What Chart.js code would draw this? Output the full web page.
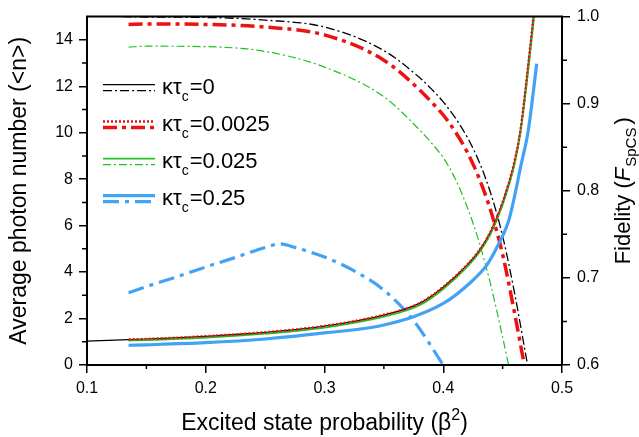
<!DOCTYPE html>
<html>
<head>
<meta charset="utf-8">
<script src="https://cdn.jsdelivr.net/npm/chart.js@4.4.1/dist/chart.umd.min.js"></script>
<style>
  html, body { margin: 0; padding: 0; background: #fff; }
  #wrap { width: 639px; height: 437px; position: relative; }
</style>
</head>
<body>
<div id="wrap"><canvas id="photonChart"></canvas></div>
<script>
// kappa*tau_c values, one per legend row
const kappaTau = ['0', '0.0025', '0.025', '0.25'];

// average photon number <n> (left axis), solid lines
const xN0 = [0.1, 0.135, 0.15, 0.2, 0.25, 0.3, 0.35, 0.38, 0.4, 0.42, 0.43, 0.44, 0.45, 0.46, 0.465, 0.47, 0.476];
const nK0 = [1.03, 1.09, 1.11, 1.23, 1.40, 1.67, 2.15, 2.65, 3.35, 4.30, 4.90, 5.75, 7.00, 8.75, 10.1, 12.2, 15.0];
const xN1 = [0.135, 0.15, 0.2, 0.25, 0.3, 0.35, 0.38, 0.4, 0.42, 0.43, 0.44, 0.45, 0.46, 0.465, 0.47, 0.476];
const nK1 = [1.10, 1.12, 1.24, 1.41, 1.68, 2.16, 2.66, 3.36, 4.31, 4.91, 5.76, 7.01, 8.76, 10.1, 12.2, 15.0];
const xN2 = [0.135, 0.15, 0.2, 0.25, 0.3, 0.35, 0.38, 0.4, 0.42, 0.43, 0.44, 0.45, 0.46, 0.465, 0.47, 0.4765];
const nK2 = [1.05, 1.07, 1.18, 1.35, 1.61, 2.08, 2.57, 3.27, 4.22, 4.82, 5.66, 6.90, 8.65, 10.0, 12.0, 15.0];
const xN3 = [0.135, 0.15, 0.2, 0.25, 0.3, 0.35, 0.4, 0.425, 0.4366, 0.445, 0.455, 0.46, 0.465, 0.4716, 0.4787];
const nK3 = [0.85, 0.87, 0.96, 1.12, 1.38, 1.72, 2.65, 3.65, 4.30, 5.05, 6.2, 7.25, 8.5, 10.1, 12.97];

// fidelity F_SpCS (right axis), dash-dot lines
const xF0 = [0.13, 0.15, 0.2, 0.25, 0.3, 0.35, 0.38, 0.39, 0.4, 0.41, 0.42, 0.43, 0.44, 0.45, 0.46, 0.471];
const fK0 = [1.0, 0.9995, 0.999, 0.996, 0.988, 0.961, 0.930, 0.917, 0.902, 0.884, 0.862, 0.834, 0.797, 0.748, 0.683, 0.600];
const xF1 = [0.135, 0.15, 0.2, 0.25, 0.3, 0.35, 0.38, 0.39, 0.4, 0.41, 0.42, 0.43, 0.44, 0.45, 0.46, 0.468];
const fK1 = [0.991, 0.9915, 0.991, 0.988, 0.979, 0.950, 0.916, 0.902, 0.887, 0.868, 0.845, 0.815, 0.777, 0.727, 0.660, 0.602];
const xF2 = [0.135, 0.15, 0.2, 0.25, 0.3, 0.35, 0.38, 0.39, 0.4, 0.41, 0.42, 0.43, 0.44, 0.45, 0.455];
const fK2 = [0.965, 0.966, 0.9655, 0.960, 0.942, 0.908, 0.870, 0.855, 0.838, 0.814, 0.782, 0.742, 0.692, 0.632, 0.600];
const xF3 = [0.135, 0.15, 0.175, 0.2, 0.225, 0.25, 0.2625, 0.275, 0.3, 0.325, 0.35, 0.375, 0.4];
const fK3 = [0.683, 0.690, 0.701, 0.7125, 0.7235, 0.735, 0.739, 0.735, 0.724, 0.708, 0.686, 0.651, 0.600];

// tick labels
const xTicks = [0.1, 0.2, 0.3, 0.4, 0.5];
const xMinor = [0.15, 0.25, 0.35, 0.45];
const nTicks = [0, 2, 4, 6, 8, 10, 12, 14];
const nMinor = [1, 3, 5, 7, 9, 11, 13];
const fTicks = [0.6, 0.7, 0.8, 0.9, 1.0];
const fMinor = [0.65, 0.75, 0.85, 0.95];

const fontFam = '"Liberation Sans", Arial, sans-serif';
const RED = '#ee1111', GREEN = '#22c022', BLUE = '#42a2f5';

function series(xs, ys, axis, color, width, dash, group, dashed) {
    return {
        data: xs.map((x, i) => ({ x: x, y: ys[i] })),
        yAxisID: axis,
        borderColor: color,
        borderWidth: width,
        borderDash: dash,
        pointRadius: 0,
        fill: false,
        cubicInterpolationMode: 'monotone',
        group: group,
        dashed: dashed
    };
}

const datasets = [
    series(xN1, nK1, 'y', RED, 2.5, [2, 2], 1, false),         // dotted
    series(xN2, nK2, 'y', GREEN, 1.8, [], 2, false),
    series(xN0, nK0, 'y', '#000', 1.3, [], 0, false),
    series(xN3, nK3, 'y', BLUE, 3.2, [], 3, false),
    series(xF0, fK0, 'y2', '#000', 1.3, [9, 3, 2, 3], 0, true),
    series(xF1, fK1, 'y2', RED, 3.5, [14, 5, 4, 5], 1, true),
    series(xF2, fK2, 'y2', GREEN, 1.2, [8, 3, 2, 3], 2, true),
    series(xF3, fK3, 'y2', BLUE, 3.2, [16, 6, 4, 6], 3, true)
];

function fixedTicks(list) {
    return function (scale) { scale.ticks = list.map(v => ({ value: v })); };
}

const axisGrid = { drawOnChartArea: false, drawTicks: true, tickLength: 8, color: '#000', lineWidth: 1.5 };
const axisBorder = { display: true, color: '#000', width: 2 };
const tickFont = { family: fontFam, size: 16 };

// minor ticks, frame top, titles and legend
const decorations = {
    id: 'decorations',
    afterDraw(chart) {
        const { ctx, chartArea: a, scales } = chart;
        ctx.save();
        ctx.strokeStyle = '#000';
        ctx.fillStyle = '#000';
        ctx.lineWidth = 2;
        ctx.beginPath();
        ctx.moveTo(a.left - 1, a.top);
        ctx.lineTo(a.right + 1, a.top);
        ctx.stroke();

        ctx.lineWidth = 1.5;
        ctx.beginPath();
        xMinor.forEach(v => {
            const p = scales.x.getPixelForValue(v);
            ctx.moveTo(p, a.bottom); ctx.lineTo(p, a.bottom + 4);
        });
        nMinor.forEach(v => {
            const p = scales.y.getPixelForValue(v);
            ctx.moveTo(a.left, p); ctx.lineTo(a.left - 5, p);
        });
        fMinor.forEach(v => {
            const p = scales.y2.getPixelForValue(v);
            ctx.moveTo(a.right, p); ctx.lineTo(a.right + 5, p);
        });
        ctx.stroke();

        const big = `23px ${fontFam}`, small = `16px ${fontFam}`;
        const midY = (a.top + a.bottom) / 2;

        // x title
        ctx.textBaseline = 'alphabetic';
        ctx.font = big;
        const p1 = 'Excited state probability (\u03b2', p2 = ')';
        ctx.font = small; const w2 = ctx.measureText('2').width;
        ctx.font = big;
        const wTot = ctx.measureText(p1).width + w2 + ctx.measureText(p2).width;
        let x = (a.left + a.right) / 2 - wTot / 2;
        const xb = 430;
        ctx.textAlign = 'left';
        ctx.fillText(p1, x, xb); x += ctx.measureText(p1).width;
        ctx.font = small; ctx.fillText('2', x, xb - 10); x += w2;
        ctx.font = big; ctx.fillText(p2, x, xb);

        // left title
        ctx.save();
        ctx.translate(26, midY);
        ctx.rotate(-Math.PI / 2);
        ctx.textAlign = 'center';
        ctx.font = big;
        ctx.fillText('Average photon number (<n>)', 0, 0);
        ctx.restore();

        // right title
        ctx.save();
        ctx.translate(630, midY);
        ctx.rotate(-Math.PI / 2);
        ctx.textAlign = 'left';
        const r1 = 'Fidelity (', rF = 'F', rS = 'SpCS', r2 = ')';
        const fIt = `italic 22px ${fontFam}`, fN = `22px ${fontFam}`, fS = `15px ${fontFam}`;
        ctx.font = fN; const a1 = ctx.measureText(r1).width, a2 = ctx.measureText(r2).width;
        ctx.font = fIt; const aF = ctx.measureText(rF).width;
        ctx.font = fS; const aS = ctx.measureText(rS).width;
        let rx = -(a1 + aF + aS + 4 + a2) / 2;
        ctx.font = fN; ctx.fillText(r1, rx, 0); rx += a1;
        ctx.font = fIt; ctx.fillText(rF, rx, 0); rx += aF + 1;
        ctx.font = fS; ctx.fillText(rS, rx, 6); rx += aS + 3;
        ctx.font = fN; ctx.fillText(r2, rx, 0);
        ctx.restore();

        // legend: two line samples per row
        const lx0 = a.left + 16, lx1 = a.left + 68, tx = a.left + 75;
        kappaTau.forEach((k, i) => {
            const cy = a.top + 71 + i * 37;
            const rows = chart.data.datasets.filter(d => d.group === i);
            [rows.find(d => !d.dashed), rows.find(d => d.dashed)].forEach((d, j) => {
                ctx.save();
                ctx.strokeStyle = d.borderColor;
                ctx.lineWidth = d.borderWidth;
                ctx.setLineDash(d.borderDash);
                ctx.beginPath();
                const yy = cy + (j === 0 ? -3 : 3);
                ctx.moveTo(lx0, yy); ctx.lineTo(lx1, yy);
                ctx.stroke();
                ctx.restore();
            });
            const base = cy + 6;
            let lx = tx;
            ctx.textAlign = 'left';
            ctx.font = `22px ${fontFam}`;
            ctx.fillText('\u03ba\u03c4', lx, base); lx += ctx.measureText('\u03ba\u03c4').width;
            ctx.font = `14px ${fontFam}`;
            ctx.fillText('c', lx, base + 7); lx += ctx.measureText('c').width + 1;
            ctx.font = `22px ${fontFam}`;
            ctx.fillText('=' + k, lx, base);
        });
        ctx.restore();
    }
};

const ctx = document.getElementById('photonChart').getContext('2d');
const photonChart = new Chart(ctx, {
    type: 'line',
    data: { datasets: datasets },
    options: {
        responsive: true,
        maintainAspectRatio: false,
        animation: false,
        layout: { padding: { top: 16, left: 0, right: 0, bottom: 0 } },
        plugins: { legend: { display: false }, tooltip: { enabled: false } },
        scales: {
            x: {
                type: 'linear', min: 0.1, max: 0.5,
                afterBuildTicks: fixedTicks(xTicks),
                afterFit: s => { s.height = 72; },
                ticks: { color: '#000', font: tickFont, padding: 6, maxRotation: 0, callback: v => v.toFixed(1) },
                grid: axisGrid, border: axisBorder
            },
            y: {
                type: 'linear', position: 'left', min: 0, max: 15,
                afterBuildTicks: fixedTicks(nTicks),
                afterFit: s => { s.width = 87; },
                ticks: { color: '#000', font: tickFont, padding: 6 },
                grid: axisGrid, border: axisBorder
            },
            y2: {
                type: 'linear', position: 'right', min: 0.6, max: 1.0,
                afterBuildTicks: fixedTicks(fTicks),
                afterFit: s => { s.width = 77; },
                ticks: { color: '#000', font: tickFont, padding: 7, callback: v => v.toFixed(1) },
                grid: axisGrid, border: axisBorder
            }
        }
    },
    plugins: [decorations]
});
</script>
</body>
</html>
